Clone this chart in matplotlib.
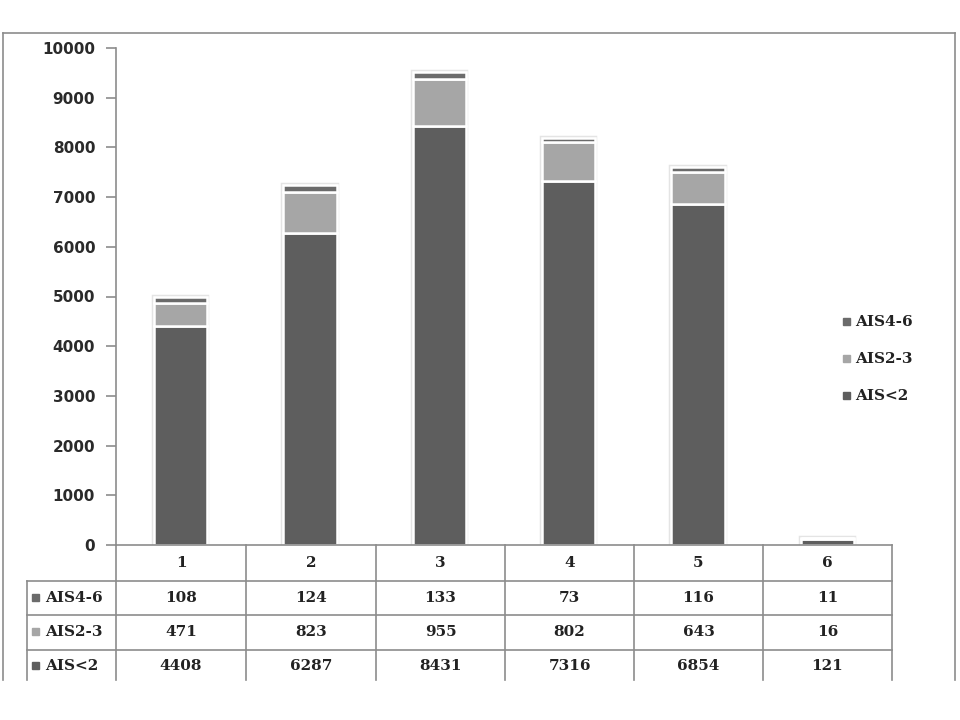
import matplotlib
matplotlib.use("Agg")
import matplotlib.pyplot as plt
from matplotlib.patches import Rectangle
from matplotlib.lines import Line2D
import numpy as np

categories = ["1", "2", "3", "4", "5", "6"]
ais_lt2 = [4408, 6287, 8431, 7316, 6854, 121]
ais_2_3 = [471, 823, 955, 802, 643, 16]
ais_4_6 = [108, 124, 133, 73, 116, 11]
series_names = ["AIS<2", "AIS2-3", "AIS4-6"]
yticks = [0, 1000, 2000, 3000, 4000, 5000, 6000, 7000, 8000, 9000, 10000]

colors = {"AIS<2": "#5e5e5e", "AIS2-3": "#a6a6a6", "AIS4-6": "#6b6b6b"}
W, H = 960, 720
fig = plt.figure(figsize=(9.6, 7.2), dpi=100)

def fx(px):
    return px / W

def fy(py):
    return 1 - py / H

ax = fig.add_axes([fx(116), fy(545), fx(892) - fx(116), fy(48) - fy(545)])
x = np.arange(len(categories))
series = {"AIS<2": ais_lt2, "AIS2-3": ais_2_3, "AIS4-6": ais_4_6}

# faint outer glow around each full stack
totals = np.sum([series[n] for n in series_names], axis=0)
ax.bar(x, totals, width=0.41, color="none", edgecolor="#e4e4e4",
       linewidth=3.2, zorder=2)

bottom = np.zeros(len(categories))
for name in series_names:
    vals = np.array(series[name])
    ax.bar(x, vals, bottom=bottom, width=0.41, color=colors[name],
           edgecolor="white", linewidth=1.8, zorder=3)
    bottom += vals

ax.set_xlim(-0.5, len(categories) - 0.5)
ax.set_ylim(0, 10000)
ax.set_yticks(yticks)
ax.set_yticklabels([str(t) for t in yticks], fontsize=11, fontweight="bold",
                   family="DejaVu Sans", color="#2a2a2a")
ax.tick_params(axis="y", length=7, width=1.2, color="#8c8c8c", pad=8)
ax.set_xticks([])
for s in ["top", "right", "bottom"]:
    ax.spines[s].set_visible(False)
ax.spines["left"].set_color("#8c8c8c")
ax.spines["left"].set_linewidth(1.2)

# Outer frame
lc = "#8c8c8c"
fig.add_artist(Line2D([fx(3), fx(955)], [fy(33), fy(33)], color=lc, lw=1.2))
fig.add_artist(Line2D([fx(3), fx(3)], [fy(33), fy(680)], color=lc, lw=1.2))
fig.add_artist(Line2D([fx(955), fx(955)], [fy(33), fy(680)], color=lc, lw=1.2))

# Data table
col_edges = [116, 246, 376, 505, 634, 763, 892]
row_edges = [545, 581, 615, 650]
bottom_px = 680
tc = "#8c8c8c"
fig.add_artist(Line2D([fx(116), fx(892)], [fy(545), fy(545)], color=tc, lw=1.2))
for ry in row_edges[1:]:
    fig.add_artist(Line2D([fx(27), fx(892)], [fy(ry), fy(ry)], color=tc, lw=1.2))
for cx in col_edges:
    fig.add_artist(Line2D([fx(cx), fx(cx)], [fy(545), fy(bottom_px)], color=tc, lw=1.2))
fig.add_artist(Line2D([fx(27), fx(27)], [fy(581), fy(bottom_px)], color=tc, lw=1.2))

tfont = dict(family="DejaVu Serif", fontweight="bold", fontsize=11, color="#222222")
for i, c in enumerate(categories):
    cxm = (col_edges[i] + col_edges[i + 1]) / 2
    fig.text(fx(cxm), fy(563), c, ha="center", va="center", **tfont)
row_series = ["AIS4-6", "AIS2-3", "AIS<2"]
row_centers = [598, 632, 666]
for name, ry in zip(row_series, row_centers):
    fig.add_artist(Rectangle((fx(32), fy(ry + 3)), fx(7), fy(0) - fy(7),
                             color=colors[name]))
    fig.text(fx(45), fy(ry), name, ha="left", va="center", **tfont)
    for i, v in enumerate(series[name]):
        cxm = (col_edges[i] + col_edges[i + 1]) / 2
        fig.text(fx(cxm), fy(ry), str(v), ha="center", va="center", **tfont)

# Legend
leg_y = [322, 359, 396]
for name, ly in zip(row_series, leg_y):
    fig.add_artist(Rectangle((fx(843), fy(ly + 3)), fx(7), fy(0) - fy(7),
                             color=colors[name]))
    fig.text(fx(855), fy(ly), name, ha="left", va="center", **tfont)

fig.savefig("out.png", dpi=100, facecolor="white")
